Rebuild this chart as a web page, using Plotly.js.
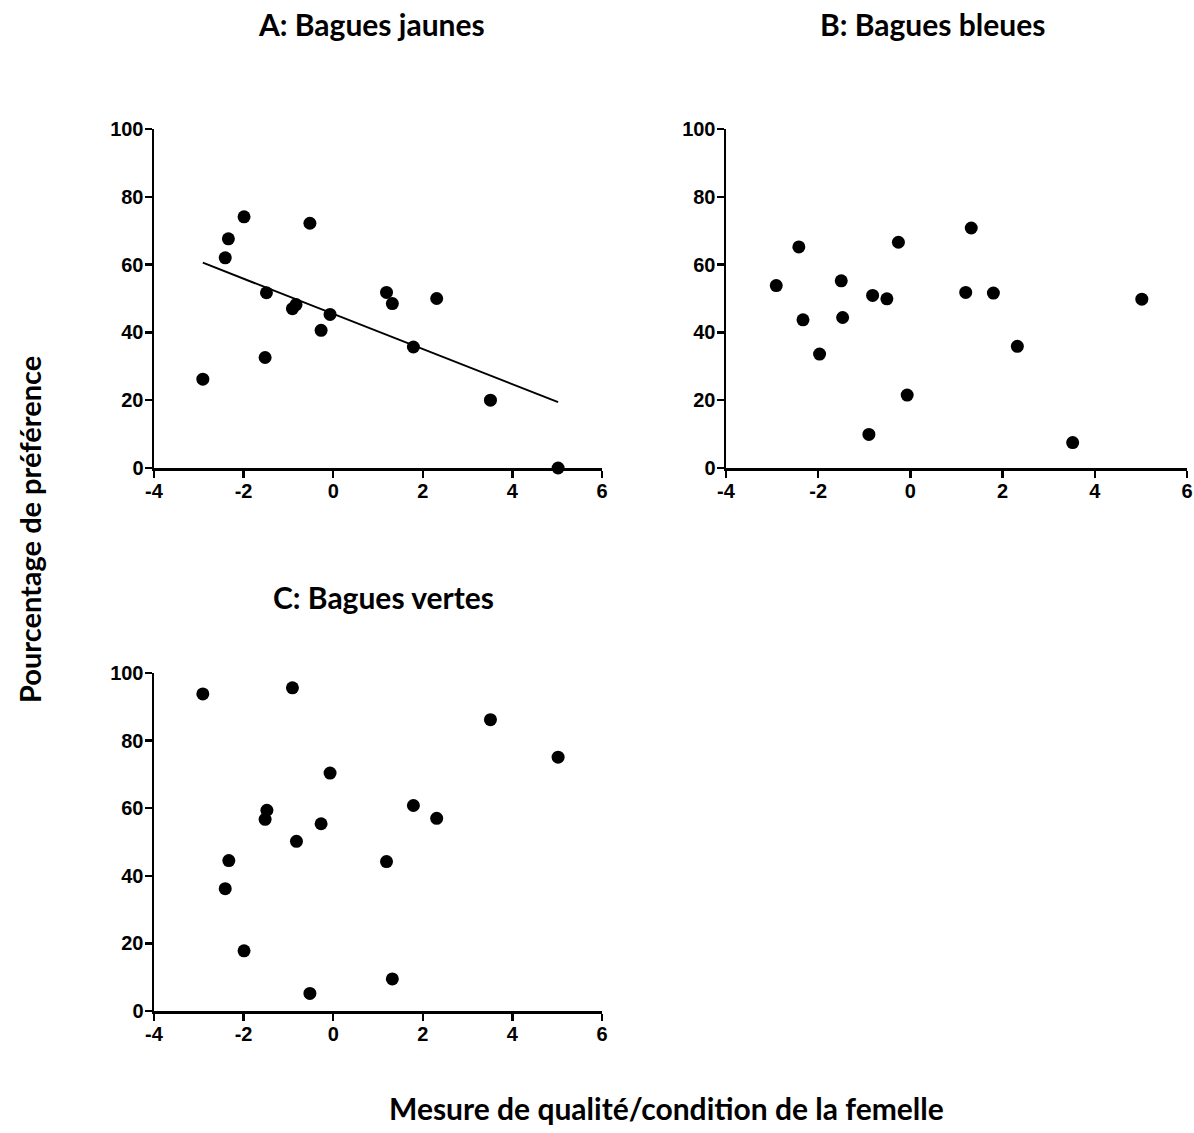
<!DOCTYPE html>
<html>
<head>
<meta charset="utf-8">
<script src="https://cdn.plot.ly/plotly-3.0.1.min.js"></script>
<style>html,body{margin:0;padding:0;background:#fff;}#chart{width:1194px;height:1133px;}</style>
</head>
<body>
<div id="chart"></div>
<script>
// Panel A: Bagues jaunes
const xA = [-2.91, -2.41, -2.34, -1.99, -1.49, -1.52, -0.91, -0.83, -0.52, -0.27, -0.07, 1.19, 1.32, 1.79, 2.31, 3.51, 5.02];
const yA = [26.2, 62.0, 67.6, 74.1, 51.7, 32.6, 47.0, 48.2, 72.2, 40.6, 45.3, 51.8, 48.5, 35.7, 50.0, 20.0, 0.0];
// Panel B: Bagues bleues
const xB = [-2.91, -2.42, -2.33, -1.97, -1.50, -1.47, -0.90, -0.82, -0.51, -0.26, -0.07, 1.20, 1.32, 1.80, 2.32, 3.52, 5.02];
const yB = [53.8, 65.2, 43.7, 33.6, 55.2, 44.4, 9.9, 50.9, 49.9, 66.6, 21.5, 51.8, 70.8, 51.6, 35.9, 7.5, 49.8];
// Panel C: Bagues vertes
const xC = [-2.91, -2.41, -2.33, -1.99, -1.48, -1.52, -0.91, -0.82, -0.52, -0.27, -0.07, 1.19, 1.32, 1.79, 2.31, 3.51, 5.02];
const yC = [93.8, 36.2, 44.5, 17.8, 59.4, 56.7, 95.6, 50.2, 5.2, 55.4, 70.4, 44.2, 9.5, 60.8, 57.0, 86.2, 75.1];

const panelTitles = ["A: Bagues jaunes", "B: Bagues bleues", "C: Bagues vertes"];
const xTitle = "Mesure de qualité/condition de la femelle";
const yTitle = "Pourcentage de préférence";
const xTicks = [-4, -2, 0, 2, 4, 6];
const yTicks = [0, 20, 40, 60, 80, 100];

// least-squares fit for panel A
function fit(xs, ys) {
  const n = xs.length;
  const mx = xs.reduce((a, b) => a + b, 0) / n;
  const my = ys.reduce((a, b) => a + b, 0) / n;
  let sxy = 0, sxx = 0;
  for (let i = 0; i < n; i++) { sxy += (xs[i] - mx) * (ys[i] - my); sxx += (xs[i] - mx) ** 2; }
  const b = sxy / sxx, a = my - b * mx;
  const x0 = Math.min(...xs), x1 = Math.max(...xs);
  return { x: [x0, x1], y: [a + b * x0, a + b * x1] };
}
const fA = fit(xA, yA);

const marker = { color: '#000', size: 13 };
const traces = [
  { x: xA, y: yA, type: 'scatter', mode: 'markers', marker: marker, xaxis: 'x', yaxis: 'y', cliponaxis: false },
  { x: fA.x, y: fA.y, type: 'scatter', mode: 'lines', line: { color: '#000', width: 2 }, xaxis: 'x', yaxis: 'y', cliponaxis: false },
  { x: xB, y: yB, type: 'scatter', mode: 'markers', marker: marker, xaxis: 'x2', yaxis: 'y2', cliponaxis: false },
  { x: xC, y: yC, type: 'scatter', mode: 'markers', marker: marker, xaxis: 'x3', yaxis: 'y3', cliponaxis: false }
];

const tickFont = { family: '"Liberation Sans", Arial, sans-serif', size: 20, color: '#000', weight: 'bold' };
function xax(dom, anchor) {
  return { domain: dom, anchor: anchor, range: [-4, 6], tickvals: xTicks, ticktext: xTicks.map(String),
    showline: true, linecolor: '#000', linewidth: 2.5, ticks: 'outside', ticklen: 7, tickwidth: 2.5, tickcolor: '#000',
    showgrid: false, zeroline: false, tickfont: tickFont, ticklabelstandoff: -4, fixedrange: true };
}
function yax(dom, anchor) {
  return { domain: dom, anchor: anchor, range: [0, 100], tickvals: yTicks, ticktext: yTicks.map(String),
    showline: true, linecolor: '#000', linewidth: 2.5, ticks: 'outside', ticklen: 7, tickwidth: 2.5, tickcolor: '#000',
    showgrid: false, zeroline: false, tickfont: tickFont, ticklabelstandoff: -3, fixedrange: true };
}
const W = 1194, H = 1133;
const titleFont = { family: 'Lato, "Open Sans", sans-serif', size: 30, color: '#000', weight: 'bold' };

const layout = {
  width: W, height: H, margin: { l: 0, r: 0, t: 0, b: 0 },
  paper_bgcolor: '#fff', plot_bgcolor: '#fff', showlegend: false,
  xaxis: xax([154 / W, 602 / W], 'y'),
  yaxis: yax([(H - 468) / H, (H - 129) / H], 'x'),
  xaxis2: xax([726 / W, 1187 / W], 'y2'),
  yaxis2: yax([(H - 468) / H, (H - 129) / H], 'x2'),
  xaxis3: xax([154 / W, 602 / W], 'y3'),
  yaxis3: yax([(H - 1011) / H, (H - 673) / H], 'x3'),
  annotations: [
    { text: panelTitles[0], x: 371 / W, y: 1 - 24 / H, xref: 'paper', yref: 'paper', showarrow: false, font: titleFont, xanchor: 'center', yanchor: 'middle' },
    { text: panelTitles[1], x: 932 / W, y: 1 - 24 / H, xref: 'paper', yref: 'paper', showarrow: false, font: titleFont, xanchor: 'center', yanchor: 'middle' },
    { text: panelTitles[2], x: 383 / W, y: 1 - 597 / H, xref: 'paper', yref: 'paper', showarrow: false, font: titleFont, xanchor: 'center', yanchor: 'middle' },
    { text: xTitle, x: 666 / W, y: 1 - 1108 / H, xref: 'paper', yref: 'paper', showarrow: false, font: titleFont, xanchor: 'center', yanchor: 'middle' },
    { text: yTitle, x: 29 / W, y: 1 - 530 / H, xref: 'paper', yref: 'paper', showarrow: false, font: Object.assign({}, titleFont, { size: 29 }), textangle: -90, xanchor: 'center', yanchor: 'middle' }
  ]
};
Plotly.newPlot('chart', traces, layout, { displayModeBar: false, staticPlot: true });
</script>
</body>
</html>
